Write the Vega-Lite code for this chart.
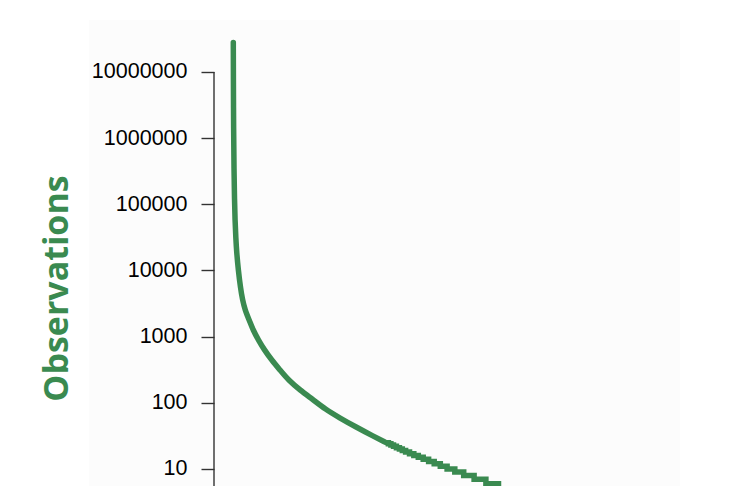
{
  "$schema": "https://vega.github.io/schema/vega-lite/v6.json",
  "width": 591,
  "height": 466,
  "autosize": "none",
  "padding": {"left": 89, "top": 20, "right": 61, "bottom": 0},
  "background": "white",
  "config": {
    "view": {"fill": "#fcfcfc", "stroke": null},
    "font": "Liberation Sans"
  },
  "datasets": {
    "curve": [
      {"rank": 0, "observations": 28000000},
      {"rank": 0.02, "observations": 7570000},
      {"rank": 0.07, "observations": 1330000},
      {"rank": 0.16, "observations": 331000},
      {"rank": 0.28, "observations": 116000},
      {"rank": 0.4, "observations": 58000},
      {"rank": 0.58, "observations": 31000},
      {"rank": 0.79, "observations": 18400},
      {"rank": 1.16, "observations": 10200},
      {"rank": 1.67, "observations": 5460},
      {"rank": 2.14, "observations": 3600},
      {"rank": 2.72, "observations": 2540},
      {"rank": 3.77, "observations": 1735},
      {"rank": 4.58, "observations": 1268},
      {"rank": 5.81, "observations": 895},
      {"rank": 7.21, "observations": 632},
      {"rank": 8.93, "observations": 443},
      {"rank": 10.86, "observations": 313},
      {"rank": 12.79, "observations": 221},
      {"rank": 15.51, "observations": 156},
      {"rank": 18.6, "observations": 111},
      {"rank": 21.33, "observations": 80.6},
      {"rank": 24.81, "observations": 58.9},
      {"rank": 28.53, "observations": 43.1},
      {"rank": 32.49, "observations": 31.5},
      {"rank": 35.51, "observations": 25}
    ],
    "steps": [
      {"rank": 35.51, "observations": 25},
      {"rank": 36.07, "observations": 24},
      {"rank": 36.65, "observations": 23},
      {"rank": 37.26, "observations": 22},
      {"rank": 37.93, "observations": 21},
      {"rank": 38.63, "observations": 20},
      {"rank": 39.3, "observations": 19},
      {"rank": 40.07, "observations": 18},
      {"rank": 40.98, "observations": 17},
      {"rank": 41.98, "observations": 16},
      {"rank": 43.02, "observations": 15},
      {"rank": 44.16, "observations": 14},
      {"rank": 45.42, "observations": 13},
      {"rank": 46.72, "observations": 12},
      {"rank": 48.14, "observations": 11},
      {"rank": 49.72, "observations": 10},
      {"rank": 51.51, "observations": 9},
      {"rank": 53.58, "observations": 8},
      {"rank": 56.0, "observations": 7},
      {"rank": 58.74, "observations": 6},
      {"rank": 61.67, "observations": 5},
      {"rank": 65.5, "observations": 4},
      {"rank": 70.9, "observations": 3},
      {"rank": 78.3, "observations": 2},
      {"rank": 88.8, "observations": 1},
      {"rank": 99.2, "observations": 1}
    ]
  },
  "encoding": {
    "x": {
      "field": "rank",
      "type": "quantitative",
      "scale": {"domain": [-33.56, 103.88], "nice": false, "zero": false},
      "axis": null
    },
    "y": {
      "field": "observations",
      "type": "quantitative",
      "scale": {"type": "log", "domain": [5.534, 61000000], "nice": false, "zero": false},
      "axis": {
        "title": "Observations",
        "titleFont": "Open Sans",
        "titleFontSize": 34,
        "titleFontWeight": "bold",
        "titleColor": "#3a8a50",
        "titleX": -157,
        "titleY": 268,
        "titleBaseline": "middle",
        "titleAlign": "center",
        "titleAngle": -90,
        "values": [10, 100, 1000, 10000, 100000, 1000000, 10000000],
        "format": "d",
        "labelFont": "Liberation Sans",
        "labelFontSize": 21.5,
        "labelColor": "#000000",
        "labelPadding": 14,
        "tickSize": 13,
        "tickColor": "#333333",
        "tickWidth": 1.4,
        "domain": false,
        "grid": false,
        "offset": -125
      }
    }
  },
  "layer": [
    {
      "data": {"name": "curve"},
      "mark": {"type": "line", "interpolate": "basis", "color": "#3a8a50", "strokeWidth": 5.5, "strokeCap": "round", "strokeJoin": "round", "clip": true}
    },
    {
      "data": {"name": "steps"},
      "mark": {"type": "line", "interpolate": "step-after", "color": "#3a8a50", "strokeWidth": 5.5, "strokeCap": "butt", "strokeJoin": "miter", "clip": true}
    },
    {
      "data": {"values": [{"rank": -4.49, "observations": 5.534, "top": 10000000}]},
      "mark": {"type": "rule", "color": "#333333", "strokeWidth": 1.4},
      "encoding": {
        "y2": {"field": "top"}
      }
    }
  ]
}
